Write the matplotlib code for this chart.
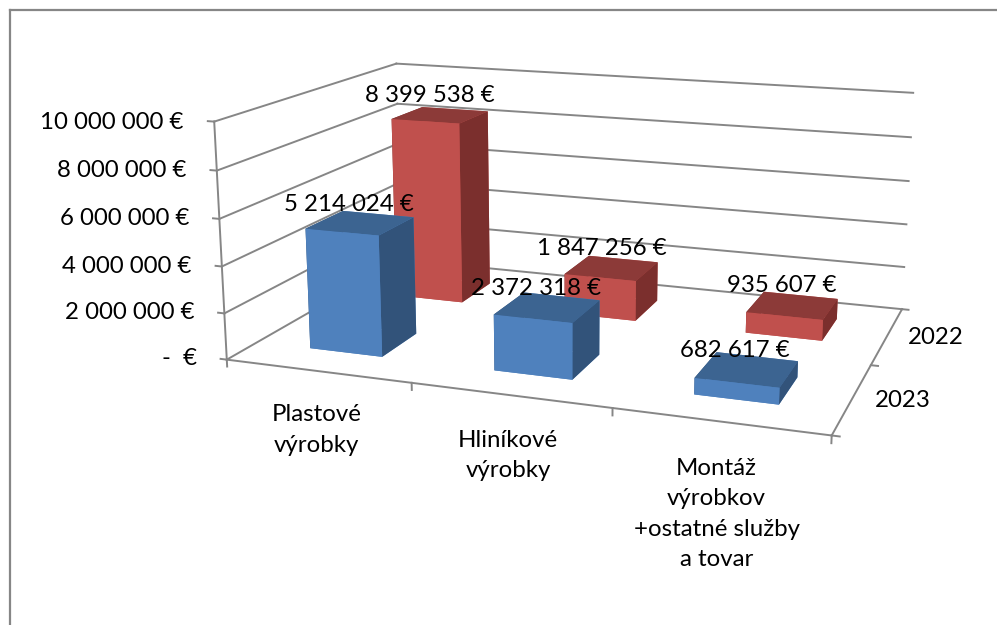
import numpy as np
import matplotlib
matplotlib.use('Agg')
import matplotlib.pyplot as plt
from matplotlib.lines import Line2D

categories = ['Plastové\nvýrobky', 'Hliníkové\nvýrobky', 'Montáž\nvýrobkov\n+ostatné služby\na tovar']
series = ['2023', '2022']
values_2023 = [5214024, 2372318, 682617]
values_2022 = [8399538, 1847256, 935607]
value_labels_2023 = ['5 214 024 €', '2 372 318 €', '682 617 €']
value_labels_2022 = ['8 399 538 €', '1 847 256 €', '935 607 €']
z_ticks = [0, 2000000, 4000000, 6000000, 8000000, 10000000]
z_tick_labels = ['-  €', '2 000 000 €', '4 000 000 €', '6 000 000 €', '8 000 000 €', '10 000 000 €']

plt.rcParams['font.family'] = ['Lato', 'DejaVu Sans']
GRID = '#868686'
BLUE = ['#4F81BD', '#3C6491', '#4F81BD', '#4F81BD', '#32537A', '#32537A']
RED = ['#C0504D', '#8C3A38', '#C0504D', '#C0504D', '#7B2F2D', '#7B2F2D']
FS = 17.3
W = 997
H = 625
S = 1000

fig = plt.figure(figsize=(W/100, H/100), dpi=100)
# camera fitted against the reference corners
ax = fig.add_axes([67.98/W, -110.27/H, S/W, S/H], projection='3d')
ax.computed_zorder = False
ax.set_xticks([])
ax.set_yticks([])
ax.set_zticks([])
ax.set_xlim(0, 3, view_margin=0)
ax.set_ylim(0, 2, view_margin=0)
ax.set_zlim(0, 1e7, view_margin=0)
aspect = np.array([1.09000, 0.72009, 0.43204])
ax.set_box_aspect(aspect, zoom=np.linalg.norm(aspect)/(1.8294640721620434*25/24))
ax.view_init(elev=13.9822, azim=-70.5959, roll=-0.1249)
ax.set_proj_type('persp', focal_length=0.30314)
ax.set_axis_off()
ax.patch.set_alpha(0)

def seg(a, b):
    ax.plot([a[0], b[0]], [a[1], b[1]], [a[2], b[2]], color=GRID, lw=1.4, zorder=1, clip_on=False)

for z in z_ticks:
    seg((0, 0, z), (0, 2, z))
    seg((0, 2, z), (3, 2, z))
    seg((0, 0, z), (-0.035, 0, z))
seg((0, 0, 0), (0, 0, z_ticks[-1]))
seg((0, 0, 0), (3, 0, 0))
seg((3, 0, 0), (3, 2, 0))
for k in range(len(categories)+1):
    seg((k, 0, 0), (k, 0, -300000))
for k in range(len(series)+1):
    seg((3, k, 0), (3.035, k, 0))

zo = 2
for j, (vals, cols) in enumerate([(values_2022, RED), (values_2023, BLUE)]):
    yy = 1.3 if j == 0 else 0.3
    for i, v in enumerate(vals):
        ax.bar3d(i+0.3, yy, 0, 0.4, 0.4, v, color=cols, shade=False, zorder=zo, linewidth=0)
        zo += 1

for i, (v, t) in enumerate(zip(values_2022, value_labels_2022)):
    ax.text(i+0.44, 1.5, v+885000, t, ha='center', va='center', fontsize=FS, color='black', zorder=20, clip_on=False)
for i, (v, t) in enumerate(zip(values_2023, value_labels_2023)):
    ax.text(i+0.44, 0.5, v+745000, t, ha='center', va='center', fontsize=FS, color='black', zorder=20, clip_on=False)
for z, t in zip(z_ticks, z_tick_labels):
    ax.text(-0.17, 0, z-120000, t, ha='right', va='center', fontsize=FS, color='black', zorder=20, clip_on=False)
for i, t in enumerate(categories):
    ax.text(i+0.49, 0, -1450000, t, ha='center', va='top', fontsize=FS, color='black', linespacing=1.56, zorder=20, clip_on=False)
for k, t in enumerate(series):
    ax.text(3.105, k+0.5, 0, t, ha='left', va='center', fontsize=FS, color='black', zorder=20, clip_on=False)

# chart area border, only top and left edges show in the crop
fig.add_artist(Line2D([9.5/W, 9.5/W], [0, 1-10/H], color=GRID, lw=1.6))
fig.add_artist(Line2D([9.5/W, 1], [1-10/H, 1-10/H], color=GRID, lw=1.6))

fig.savefig('out.png', dpi=100)
